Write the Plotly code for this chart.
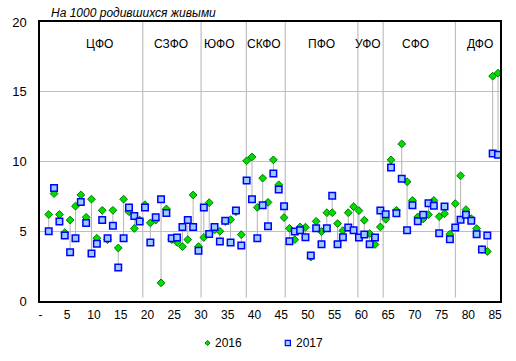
import plotly.graph_objects as go

# --- data ---
region_idx = list(range(1, 86))
v2016 = [6.2, 7.7, 6.2, 4.9, 5.8, 6.8, 7.6, 6.0, 7.3, 4.5,
         6.5, 4.4, 6.5, 3.8, 7.3, 6.4, 5.2, 5.8, 6.9, 5.6,
         5.8, 1.3, 6.6, 4.4, 4.2, 3.9, 4.4, 7.6, 3.9, 4.55,
         7.05, 5.1, 5.0, 5.7, 5.83, 6.4, 4.76, 10.05, 10.33, 6.71,
         8.81, 7.07, 10.12, 8.33, 5.98, 5.21, 4.4, 5.31, 5.29, 3.15,
         5.71, 4.98, 6.33, 6.33, 5.55, 5.05, 6.33, 6.76, 6.48, 5.79,
         4.83, 4.05, 5.31, 5.86, 10.12, 6.5, 11.26, 8.55, 7.21, 6.02,
         5.88, 6.19, 7.21, 6.05, 6.26, 4.79, 6.98, 8.98, 6.55, 5.9,
         5.19, 3.7, 3.55, 16.12, 16.33]
v2017 = [5.0, 8.1, 5.7, 4.7, 3.5, 4.5, 7.1, 5.6, 3.4, 4.1,
         5.8, 4.5, 5.4, 2.4, 4.5, 6.7, 6.1, 5.7, 6.7, 4.2,
         6.0, 7.3, 6.3, 4.5, 4.55, 5.3, 5.8, 5.3, 3.6, 6.7,
         4.8, 5.3, 4.26, 5.76, 4.19, 6.48, 3.98, 8.64, 7.29, 4.5,
         6.86, 5.36, 9.14, 8.0, 6.79, 4.29, 4.98, 5.07, 4.57, 3.26,
         5.21, 4.07, 5.21, 7.55, 4.07, 4.57, 5.27, 5.07, 4.55, 4.76,
         4.07, 4.55, 6.48, 6.21, 9.57, 6.29, 8.76, 5.07, 6.86, 5.71,
         6.19, 7.0, 6.83, 4.86, 6.78, 4.43, 5.26, 5.83, 6.19, 5.76,
         4.79, 3.69, 4.69, 10.57, 10.48]
districts = ["ЦФО", "СЗФО", "ЮФО", "СКФО", "ПФО", "УФО", "СФО", "ДФО"]
district_label_x = [10.4, 23.9, 33.0, 41.3, 52.0, 60.7, 69.6, 81.6]
separator_x = [18.58, 29.49, 37.95, 45.22, 58.8, 63.53, 77.04]
x_tick_labels = ["-", "5", "10", "15", "20", "25", "30", "35", "40", "45",
                 "50", "55", "60", "65", "70", "75", "80", "85"]
title_text = "На 1000 родившихся живыми"
series_names = ["2016", "2017"]

FONT = "Liberation Sans, Arial, sans-serif"
GRID = "#bfbfbf"

fig = go.Figure()

# high-low lines
hx, hy = [], []
for x, a, b in zip(region_idx, v2016, v2017):
    hx += [x, x, None]
    hy += [a, b, None]
fig.add_trace(go.Scatter(x=hx, y=hy, mode="lines",
                         line=dict(color="#b4b4b4", width=1),
                         hoverinfo="skip", showlegend=False))

fig.add_trace(go.Scatter(x=region_idx, y=v2016, mode="markers", name=series_names[0],
                         marker=dict(symbol="diamond", size=6, color="#00dd00",
                                     line=dict(color="#007a00", width=1)),
                         showlegend=False))
fig.add_trace(go.Scatter(x=region_idx, y=v2017, mode="markers", name=series_names[1],
                         marker=dict(symbol="square", size=6.5, color="#99ccff",
                                     line=dict(color="#0000ff", width=1.5)),
                         showlegend=False))

shapes = []
for sx in separator_x:
    shapes.append(dict(type="line", xref="x", yref="y", x0=sx, x1=sx, y0=0.25, y1=20,
                       line=dict(color=GRID, width=1.2), layer="below"))

# manual legend
W, H = 464.0, 279.0
def px2paper(px, py):
    return (px - 36) / W, (301 - py) / H
dx, dy = 2.6 / W, 2.6 / H
cx, cy = px2paper(205, 343)
shapes.append(dict(type="path", xref="paper", yref="paper",
                   path=f"M {cx-dx},{cy} L {cx},{cy+dy} L {cx+dx},{cy} L {cx},{cy-dy} Z",
                   fillcolor="#00dd00", line=dict(color="#007a00", width=1)))
sx_, sy_ = px2paper(286, 343)
shapes.append(dict(type="rect", xref="paper", yref="paper",
                   x0=sx_-dx, x1=sx_+dx, y0=sy_-dy, y1=sy_+dy,
                   fillcolor="#99ccff", line=dict(color="#0000ff", width=1.2)))

annotations = []
for name, lx in zip(districts, district_label_x):
    annotations.append(dict(x=lx, y=18.4, xref="x", yref="y", text=name, showarrow=False,
                            font=dict(family=FONT, size=12, color="#000000")))
tx, ty = px2paper(45, 13)
annotations.append(dict(x=tx, y=ty, xref="paper", yref="paper", text=f"<i>{title_text}</i>",
                        showarrow=False, xanchor="left", yanchor="middle",
                        font=dict(family=FONT, size=12, color="#000000")))
for name, px in zip(series_names, [211, 292]):
    ax_, ay_ = px2paper(px, 343)
    annotations.append(dict(x=ax_, y=ay_, xref="paper", yref="paper", text=name,
                            showarrow=False, xanchor="left", yanchor="middle",
                            font=dict(family=FONT, size=12, color="#000000")))

tickvals = [5 * i - 0.55 for i in range(len(x_tick_labels))]

fig.update_layout(
    width=516, height=361,
    margin=dict(l=36, r=16, t=22, b=60),
    paper_bgcolor="white", plot_bgcolor="white",
    font=dict(family=FONT, size=12, color="#000000"),
    shapes=shapes, annotations=annotations,
    xaxis=dict(range=[-0.63, 85.37], tickvals=tickvals, ticktext=x_tick_labels,
               showgrid=False, zeroline=False, showline=True, linecolor="#000000",
               linewidth=1.5, mirror=True, ticks="", ticklabelstandoff=2,
               tickfont=dict(family=FONT, size=12, color="#000000")),
    yaxis=dict(range=[0, 20], tickvals=[0, 5, 10, 15, 20],
               showgrid=True, gridcolor=GRID, gridwidth=1, zeroline=False,
               showline=True, linecolor="#000000", linewidth=1.5, mirror=True,
               ticks="", ticklabelstandoff=9,
               tickfont=dict(family=FONT, size=13, color="#000000")),
)

fig.write_html("out.html", config={"displayModeBar": False},
               post_script="document.body.style.margin='0';document.body.style.overflow='hidden';")
